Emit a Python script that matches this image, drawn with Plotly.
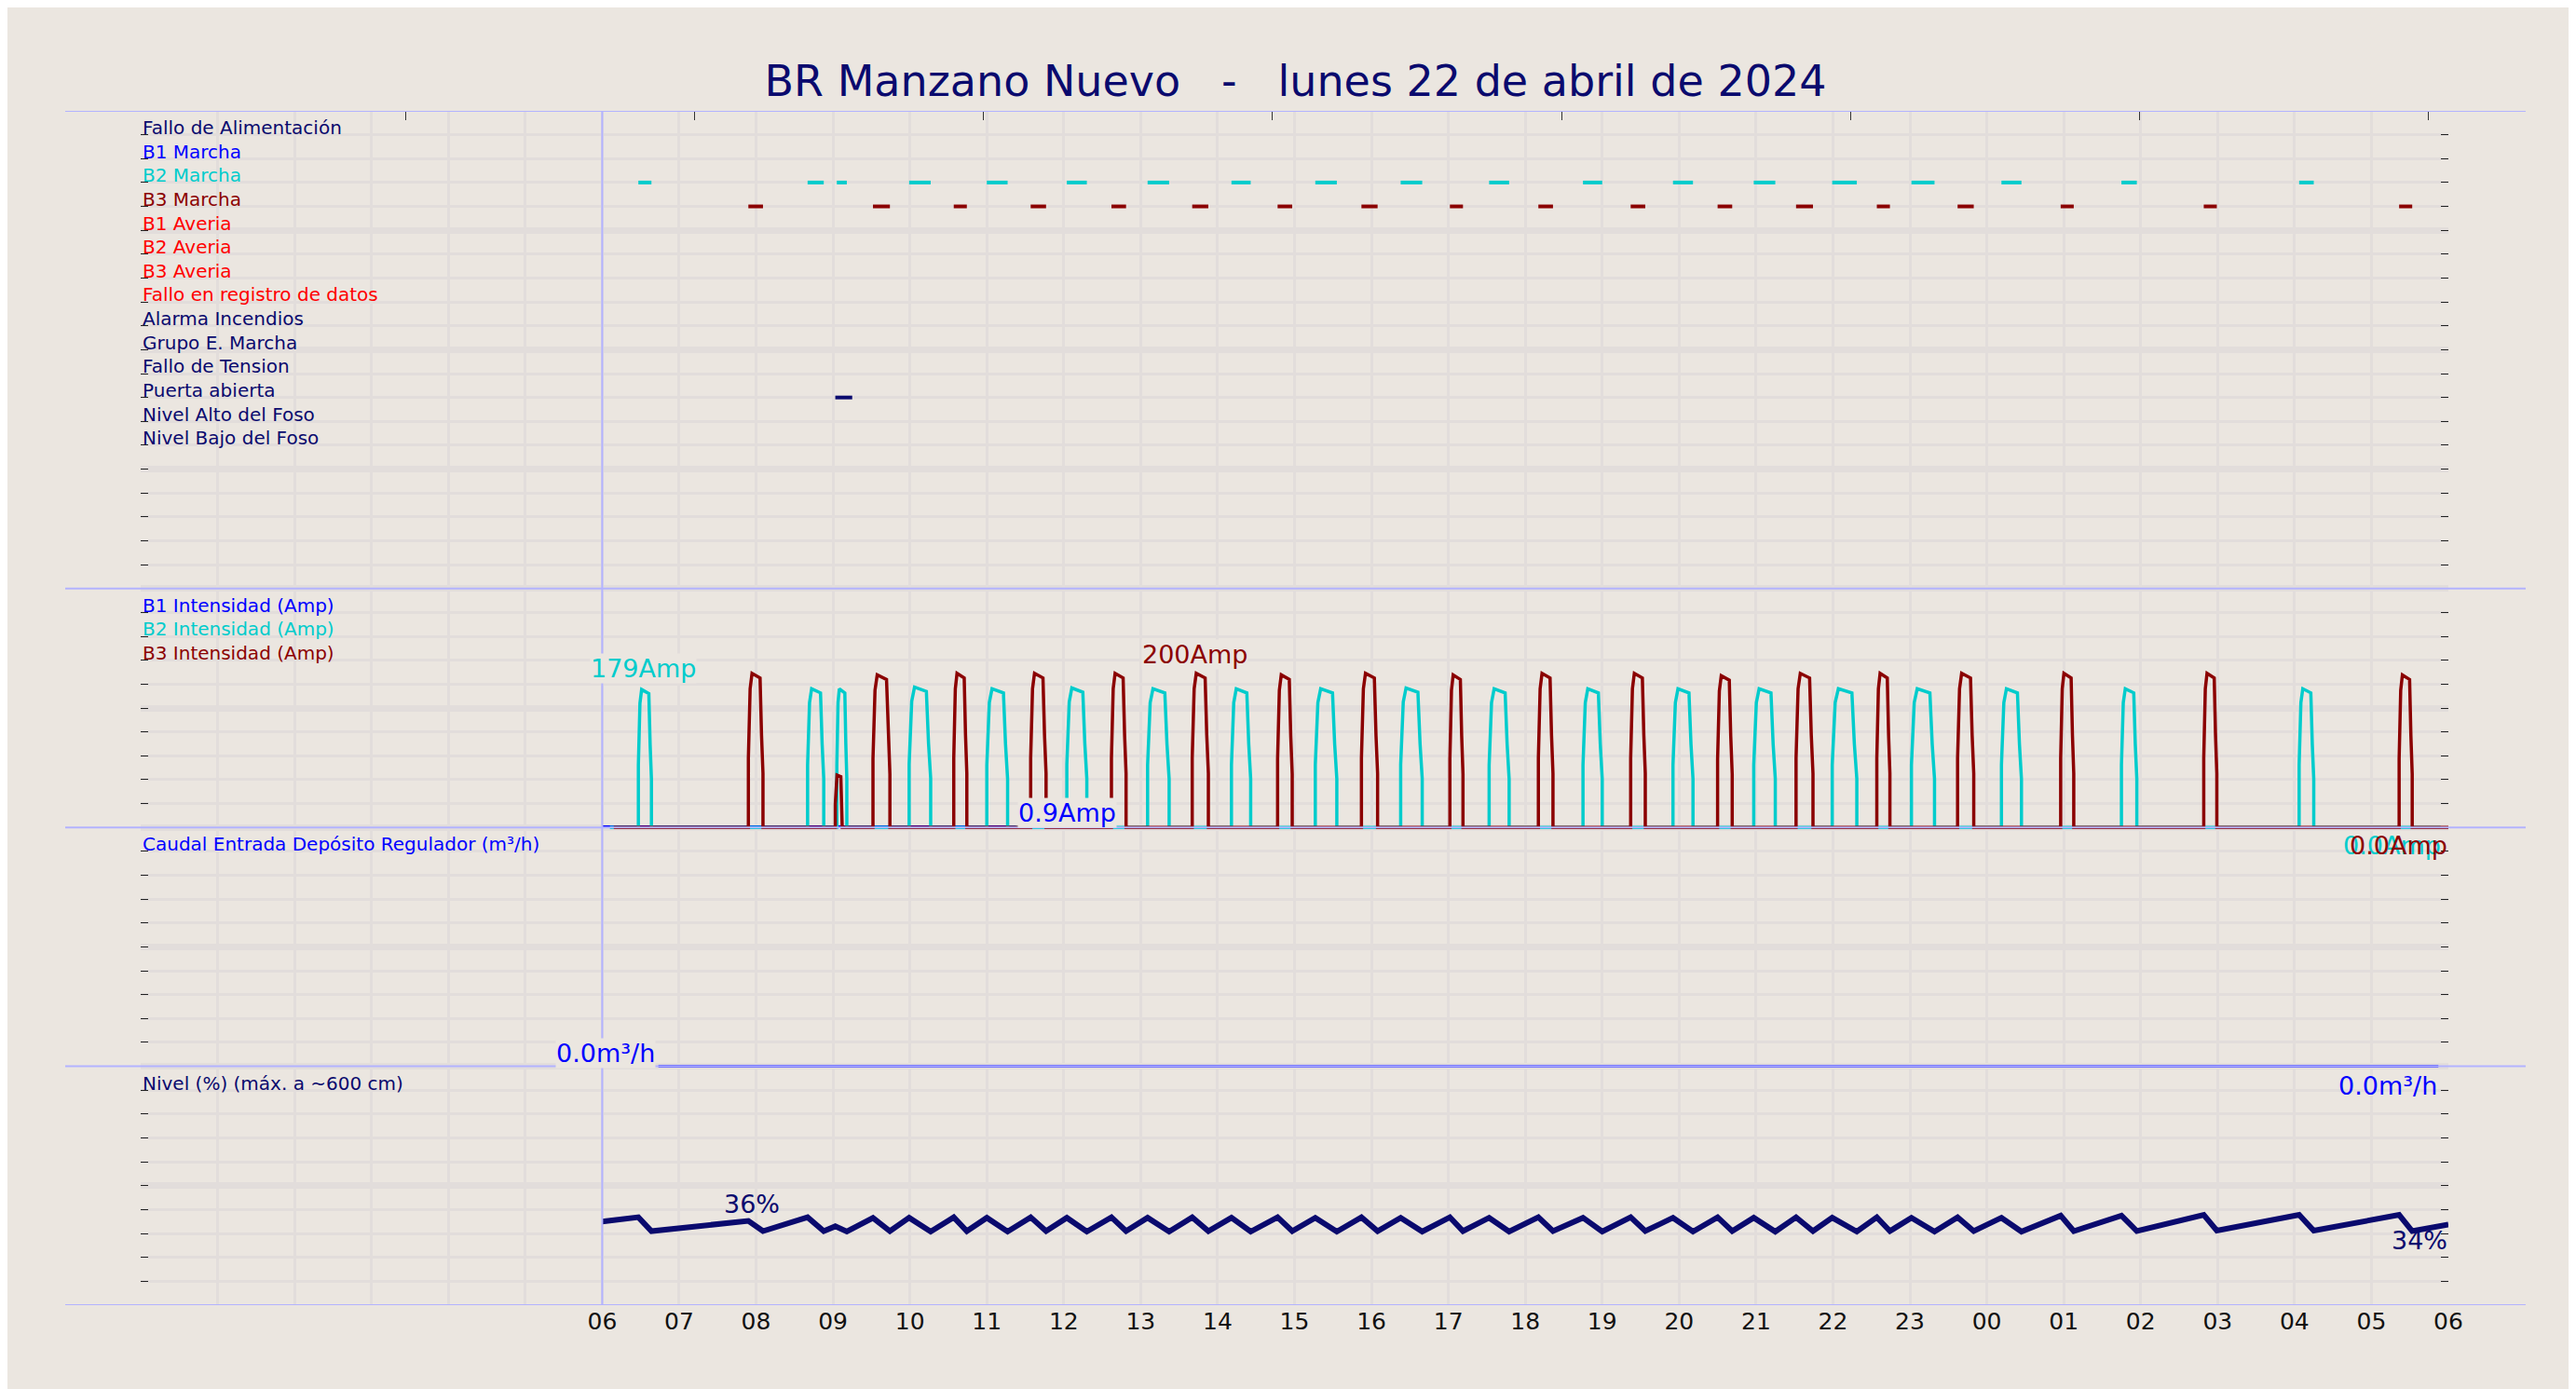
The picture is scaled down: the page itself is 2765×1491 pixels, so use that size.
import plotly.graph_objects as go

# --- data (hours since 00:00 of 22/04/2024) ---
signal_names = ["Fallo de Alimentación", "B1 Marcha", "B2 Marcha", "B3 Marcha", "B1 Averia",
                "B2 Averia", "B3 Averia", "Fallo en registro de datos", "Alarma Incendios",
                "Grupo E. Marcha", "Fallo de Tension", "Puerta abierta", "Nivel Alto del Foso",
                "Nivel Bajo del Foso"]
signal_colors = ["#0a0a6e", "#0000ff", "#00cccc", "#8b0000", "#ff0000", "#ff0000", "#ff0000",
                 "#ff0000", "#0a0a6e", "#0a0a6e", "#0a0a6e", "#0a0a6e", "#0a0a6e", "#0a0a6e"]

b2_start = [6.47, 8.67, 9.05, 9.99, 11.00, 12.04, 13.09, 14.18, 15.27, 16.38, 17.53, 18.75,
            19.92, 20.97, 21.99, 23.02, 24.19, 25.75, 28.06]
b2_end = [6.64, 8.88, 9.18, 10.27, 11.27, 12.30, 13.37, 14.43, 15.55, 16.66, 17.79, 19.00,
          20.18, 21.25, 22.31, 23.32, 24.45, 25.95, 28.25]
b2_peak = [179, 180, 180, 182, 180, 181, 180, 180, 180, 181, 180, 180, 180, 180, 180, 180, 180, 180, 180]

b3_start = [7.90, 9.03, 9.52, 10.57, 11.57, 12.62, 13.67, 14.78, 15.87, 17.02, 18.17, 19.37,
            20.50, 21.52, 22.57, 23.62, 24.96, 26.82, 29.36]
b3_end = [8.09, 9.12, 9.74, 10.74, 11.77, 12.81, 13.88, 14.97, 16.08, 17.19, 18.36, 19.56,
          20.69, 21.74, 22.74, 23.83, 25.13, 26.99, 29.53]
b3_peak = [200, 68, 198, 200, 200, 200, 200, 198, 200, 198, 200, 200, 197, 200, 200, 200, 200, 200, 198]

door_start = [9.03]
door_end = [9.25]

b1_amp_t = [6.0, 11.38]
b1_amp = [0.9, 0.9]

flow_t = [6.73, 29.87]
flow = [0.0, 0.0]

level_t = [6.0, 6.47, 6.64, 7.90, 8.09, 8.67, 8.88, 9.03, 9.18, 9.52, 9.74, 9.99, 10.27, 10.57,
           10.74, 11.00, 11.27, 11.57, 11.77, 12.04, 12.30, 12.62, 12.81, 13.09, 13.37, 13.67,
           13.88, 14.18, 14.43, 14.78, 14.97, 15.27, 15.55, 15.87, 16.08, 16.38, 16.66, 17.02,
           17.19, 17.53, 17.79, 18.17, 18.36, 18.75, 19.00, 19.37, 19.56, 19.92, 20.18, 20.50,
           20.69, 20.97, 21.25, 21.52, 21.74, 21.99, 22.31, 22.57, 22.74, 23.02, 23.32, 23.62,
           23.83, 24.19, 24.45, 24.96, 25.13, 25.75, 25.95, 26.82, 26.99, 28.06, 28.25, 29.36,
           29.53, 30.0]
level_pct = [35.0, 36.8, 31.0, 35.3, 31.0, 36.8, 31.0, 33.0, 30.8, 36.5, 31.0, 36.6, 30.8, 36.8,
             31.0, 36.6, 30.8, 36.8, 31.0, 36.6, 30.8, 36.8, 31.0, 36.6, 30.8, 36.8, 31.0, 36.6,
             30.8, 36.8, 31.0, 36.6, 30.8, 36.8, 31.0, 36.6, 30.8, 36.8, 31.0, 36.6, 30.8, 36.8,
             31.0, 36.6, 30.8, 36.8, 31.0, 36.6, 30.8, 36.8, 31.0, 36.6, 30.8, 36.8, 31.0, 36.6,
             30.8, 36.8, 31.0, 36.6, 30.8, 36.8, 31.0, 36.6, 30.8, 37.5, 31.0, 37.5, 31.0, 37.8,
             31.2, 37.8, 31.2, 37.8, 31.0, 33.8]

hour_labels = ["06", "07", "08", "09", "10", "11", "12", "13", "14", "15", "16", "17", "18",
               "19", "20", "21", "22", "23", "00", "01", "02", "03", "04", "05", "06"]
top_ticks = [3.44, 7.20, 10.95, 14.71, 18.47, 22.23, 25.99, 29.74]

BG = "#ebe6e0"
GRID = "#e2dddb"
NAVY = "#0a0a6e"
CYAN = "#00cccc"
DRED = "#8b0000"
AMP_FULL = 310.0  # amps spanning the 10-row current panel


def amp_units(a):
    return 20 + a / AMP_FULL * 10


def segments(starts, ends, yval):
    xs, ys = [], []
    for s, e in zip(starts, ends):
        xs += [s, e, None]
        ys += [yval, yval, None]
    return xs, ys


def pulses(starts, ends, peaks, t0, t1):
    xs, ys = [t0], [amp_units(0)]
    for s, e, p in zip(starts, ends, peaks):
        d = e - s
        xs += [s, s, s + 0.12 * d, s + 0.25 * d, e - 0.2 * d, e - 0.1 * d, e, e]
        ys += [amp_units(0), amp_units(0.45 * p), amp_units(0.9 * p), amp_units(p),
               amp_units(0.97 * p), amp_units(0.6 * p), amp_units(0.35 * p), amp_units(0)]
    xs.append(t1)
    ys.append(amp_units(0))
    return xs, ys


fig = go.Figure()

# signal panel (the short B3 spike at 09h has no Marcha mark)
x, y = segments(b2_start, b2_end, 47)
fig.add_trace(go.Scatter(x=x, y=y, mode="lines", line=dict(color=CYAN, width=4)))
b3_runs = [(s, e) for s, e, p in zip(b3_start, b3_end, b3_peak) if p > 100]
x, y = segments([r[0] for r in b3_runs], [r[1] for r in b3_runs], 46)
fig.add_trace(go.Scatter(x=x, y=y, mode="lines", line=dict(color=DRED, width=4)))
x, y = segments(door_start, door_end, 38)
fig.add_trace(go.Scatter(x=x, y=y, mode="lines", line=dict(color=NAVY, width=4)))

# current panel
fig.add_trace(go.Scatter(x=b1_amp_t, y=[amp_units(a) for a in b1_amp], mode="lines",
                         line=dict(color="#0000ff", width=3)))
x, y = pulses(b2_start, b2_end, b2_peak, 6.1, 29.9)
fig.add_trace(go.Scatter(x=x, y=y, mode="lines", line=dict(color=CYAN, width=3.5)))
x, y = pulses(b3_start, b3_end, b3_peak, 6.15, 30.0)
fig.add_trace(go.Scatter(x=x, y=y, mode="lines", line=dict(color=DRED, width=3.5)))

# flow panel
fig.add_trace(go.Scatter(x=flow_t, y=[10 + f for f in flow], mode="lines",
                         line=dict(color="#3333ff", width=3)))

# level panel
fig.add_trace(go.Scatter(x=level_t, y=[p / 10 for p in level_pct], mode="lines",
                         line=dict(color=NAVY, width=6)))

# top tick marks
fig.add_trace(go.Scatter(x=top_ticks, y=[None] * len(top_ticks), xaxis="x2", showlegend=False))

ann = []
for i, (name, col) in enumerate(zip(signal_names, signal_colors)):
    ann.append(dict(x=0, y=49.3 - i, text=name, font=dict(color=col, size=20)))
for i, (name, col) in enumerate(zip(["B1 Intensidad (Amp)", "B2 Intensidad (Amp)", "B3 Intensidad (Amp)"],
                                    ["#0000ff", CYAN, DRED])):
    ann.append(dict(x=0, y=29.3 - i, text=name, font=dict(color=col, size=20)))
ann.append(dict(x=0, y=19.3, text="Caudal Entrada Depósito Regulador (m³/h)", font=dict(color="#0000ff", size=20)))
ann.append(dict(x=0, y=9.3, text="Nivel (%) (máx. a ~600 cm)", font=dict(color=NAVY, size=20)))
annotations = [dict(a, xref="x", yref="y", xanchor="left", yanchor="middle", showarrow=False) for a in ann]

value_labels = [
    (6.53, 26.65, "179Amp", CYAN, "center", BG),
    (13.71, 27.25, "200Amp", DRED, "center", BG),
    (11.40, 20.6, "0.9Amp", "#0000ff", "left", BG),
    (29.92, 19.25, "0.0Amp", CYAN, "right", None),
    (30.0, 19.25, "0.0Amp", DRED, "right", None),
    (6.04, 10.55, "0.0m³/h", "#0000ff", "center", BG),
    (29.87, 9.2, "0.0m³/h", "#0000ff", "right", None),
    (7.94, 4.25, "36%", NAVY, "center", None),
    (30.0, 2.7, "34%", NAVY, "right", None),
]
for vx, vy, txt, col, anc, bg in value_labels:
    d = dict(x=vx, y=vy, text=txt, xref="x", yref="y", xanchor=anc, yanchor="middle",
             showarrow=False, font=dict(color=col, size=27), borderpad=0)
    if bg:
        d["bgcolor"] = bg
    annotations.append(d)

shapes = []
for yb in [50, 30, 20, 10, 0]:
    shapes.append(dict(type="line", xref="paper", yref="y", x0=-0.0327, x1=1.0335, y0=yb, y1=yb,
                       line=dict(color="#b3b3ff", width=2), layer="above"))
shapes.append(dict(type="line", xref="x", yref="paper", x0=6, x1=6, y0=0, y1=1,
                   line=dict(color="#b3b3ff", width=2), layer="above"))

fig.update_layout(
    width=2765, height=1491,
    paper_bgcolor=BG, plot_bgcolor=BG,
    margin=dict(l=143, r=145, t=111, b=98),
    showlegend=False,
    font=dict(family="DejaVu Sans", color=NAVY),
    title=dict(text="BR Manzano Nuevo   -   lunes 22 de abril de 2024", x=0.5, xanchor="center",
               y=0.947, yanchor="middle", font=dict(size=46, color=NAVY)),
    xaxis=dict(range=[0, 30], tickvals=list(range(6, 31)), ticktext=hour_labels,
               tickfont=dict(size=25, color="#111111"), ticks="", showgrid=True, gridcolor=GRID,
               gridwidth=3, zeroline=False, showline=False,
               minor=dict(dtick=1, tick0=0, showgrid=True, gridcolor=GRID, gridwidth=3)),
    xaxis2=dict(range=[0, 30], overlaying="x", side="top", tickvals=top_ticks, ticks="inside",
                ticklen=10, tickcolor="#333333", showticklabels=False, showgrid=False, zeroline=False),
    yaxis=dict(range=[0, 50], dtick=5, tick0=0, showticklabels=False, showgrid=True, gridcolor=GRID,
               gridwidth=7, zeroline=False, ticks="inside", ticklen=8, tickcolor="#222222",
               mirror="ticks", showline=False,
               minor=dict(dtick=1, tick0=0, showgrid=True, gridcolor=GRID, gridwidth=3,
                          ticks="inside", ticklen=8, tickcolor="#222222")),
    annotations=annotations,
    shapes=shapes,
)

fig.write_html("out.html")
